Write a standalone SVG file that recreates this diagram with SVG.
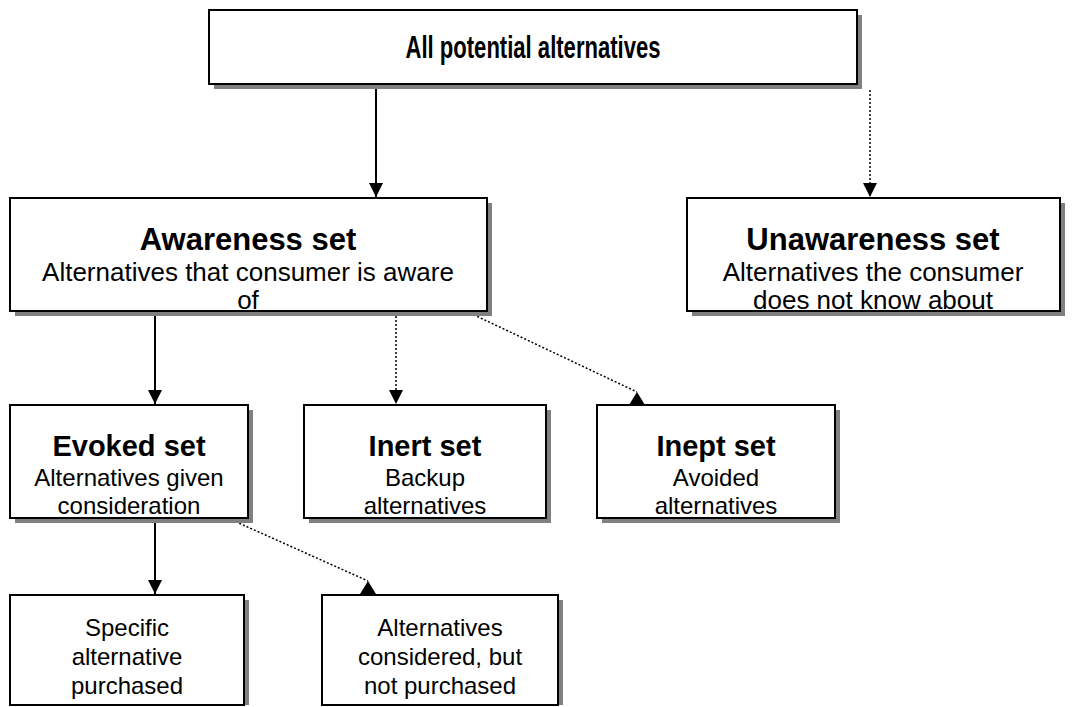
<svg xmlns="http://www.w3.org/2000/svg" width="1083" height="707" viewBox="0 0 1083 707">
<defs>
<style>
.shadow{fill:#808080;stroke:none}
.box{fill:#ffffff;stroke:#000000;stroke-width:2}
.t{font-family:"Liberation Sans",Arial,sans-serif;font-weight:bold;fill:#000;text-anchor:middle}
.s{font-family:"Liberation Sans",Arial,sans-serif;fill:#000;text-anchor:middle}
.t1{font-size:31px}
.s1{font-size:26px}
.t2{font-size:29px}
.s2{font-size:24px}
.solid{stroke:#000;stroke-width:2;fill:none}
.dot{stroke:#000;stroke-width:1.5;fill:none;stroke-dasharray:2 2}
</style>
<marker id="arrowDown" markerUnits="userSpaceOnUse" markerWidth="16" markerHeight="16" refX="8" refY="14" orient="0" viewBox="0 0 16 16">
<path d="M1,0 L15,0 L8,14 Z" fill="#000"/>
</marker>
<marker id="arrowUp" markerUnits="userSpaceOnUse" markerWidth="18" markerHeight="16" refX="9" refY="0" orient="0" viewBox="0 0 18 16">
<path d="M9,0 L17,13 L1,13 Z" fill="#000"/>
</marker>
</defs>

<g id="connectors">
<line class="solid" x1="376" y1="84" x2="376" y2="197" marker-end="url(#arrowDown)"/>
<line class="dot" x1="870" y1="90" x2="870" y2="197" marker-end="url(#arrowDown)"/>
<line class="solid" x1="155" y1="311" x2="155" y2="404" marker-end="url(#arrowDown)"/>
<line class="dot" x1="396" y1="316" x2="396" y2="404" marker-end="url(#arrowDown)"/>
<line class="dot" x1="470" y1="313" x2="637" y2="392" marker-end="url(#arrowUp)"/>
<line class="solid" x1="155" y1="518" x2="155" y2="594" marker-end="url(#arrowDown)"/>
<line class="dot" x1="232" y1="520" x2="368" y2="581" marker-end="url(#arrowUp)"/>
</g>

<g id="node-all">
<rect class="shadow" x="214" y="15" width="648" height="74"/>
<rect class="box" x="209" y="10" width="648" height="74"/>
<text class="t t1" x="533" y="58" textLength="255" lengthAdjust="spacingAndGlyphs">All potential alternatives</text>
</g>

<g id="node-awareness">
<rect class="shadow" x="15" y="203" width="477" height="113"/>
<rect class="box" x="10" y="198" width="477" height="113"/>
<text class="t t1" x="248" y="250">Awareness set</text>
<text class="s s1" x="248" y="281">Alternatives that consumer is aware</text>
<text class="s s1" x="248" y="309">of</text>
</g>

<g id="node-unawareness">
<rect class="shadow" x="692" y="203" width="373" height="113"/>
<rect class="box" x="687" y="198" width="373" height="113"/>
<text class="t t1" x="873" y="250">Unawareness set</text>
<text class="s s1" x="873" y="281">Alternatives the consumer</text>
<text class="s s1" x="873" y="309">does not know about</text>
</g>

<g id="node-evoked">
<rect class="shadow" x="15" y="410" width="238" height="113"/>
<rect class="box" x="10" y="405" width="238" height="113"/>
<text class="t t2" x="129" y="456">Evoked set</text>
<text class="s s2" x="129" y="486">Alternatives given</text>
<text class="s s2" x="129" y="514">consideration</text>
</g>

<g id="node-inert">
<rect class="shadow" x="309" y="410" width="242" height="113"/>
<rect class="box" x="304" y="405" width="242" height="113"/>
<text class="t t2" x="425" y="456">Inert set</text>
<text class="s s2" x="425" y="486">Backup</text>
<text class="s s2" x="425" y="514">alternatives</text>
</g>

<g id="node-inept">
<rect class="shadow" x="602" y="410" width="238" height="113"/>
<rect class="box" x="597" y="405" width="238" height="113"/>
<text class="t t2" x="716" y="456">Inept set</text>
<text class="s s2" x="716" y="486">Avoided</text>
<text class="s s2" x="716" y="514">alternatives</text>
</g>

<g id="node-specific">
<rect class="shadow" x="15" y="600" width="234" height="105"/>
<rect class="box" x="10" y="595" width="234" height="110"/>
<text class="s s2" x="127" y="636">Specific</text>
<text class="s s2" x="127" y="665">alternative</text>
<text class="s s2" x="127" y="694">purchased</text>
</g>

<g id="node-considered">
<rect class="shadow" x="327" y="600" width="236" height="105"/>
<rect class="box" x="322" y="595" width="236" height="110"/>
<text class="s s2" x="440" y="636">Alternatives</text>
<text class="s s2" x="440" y="665">considered, but</text>
<text class="s s2" x="440" y="694">not purchased</text>
</g>
</svg>
